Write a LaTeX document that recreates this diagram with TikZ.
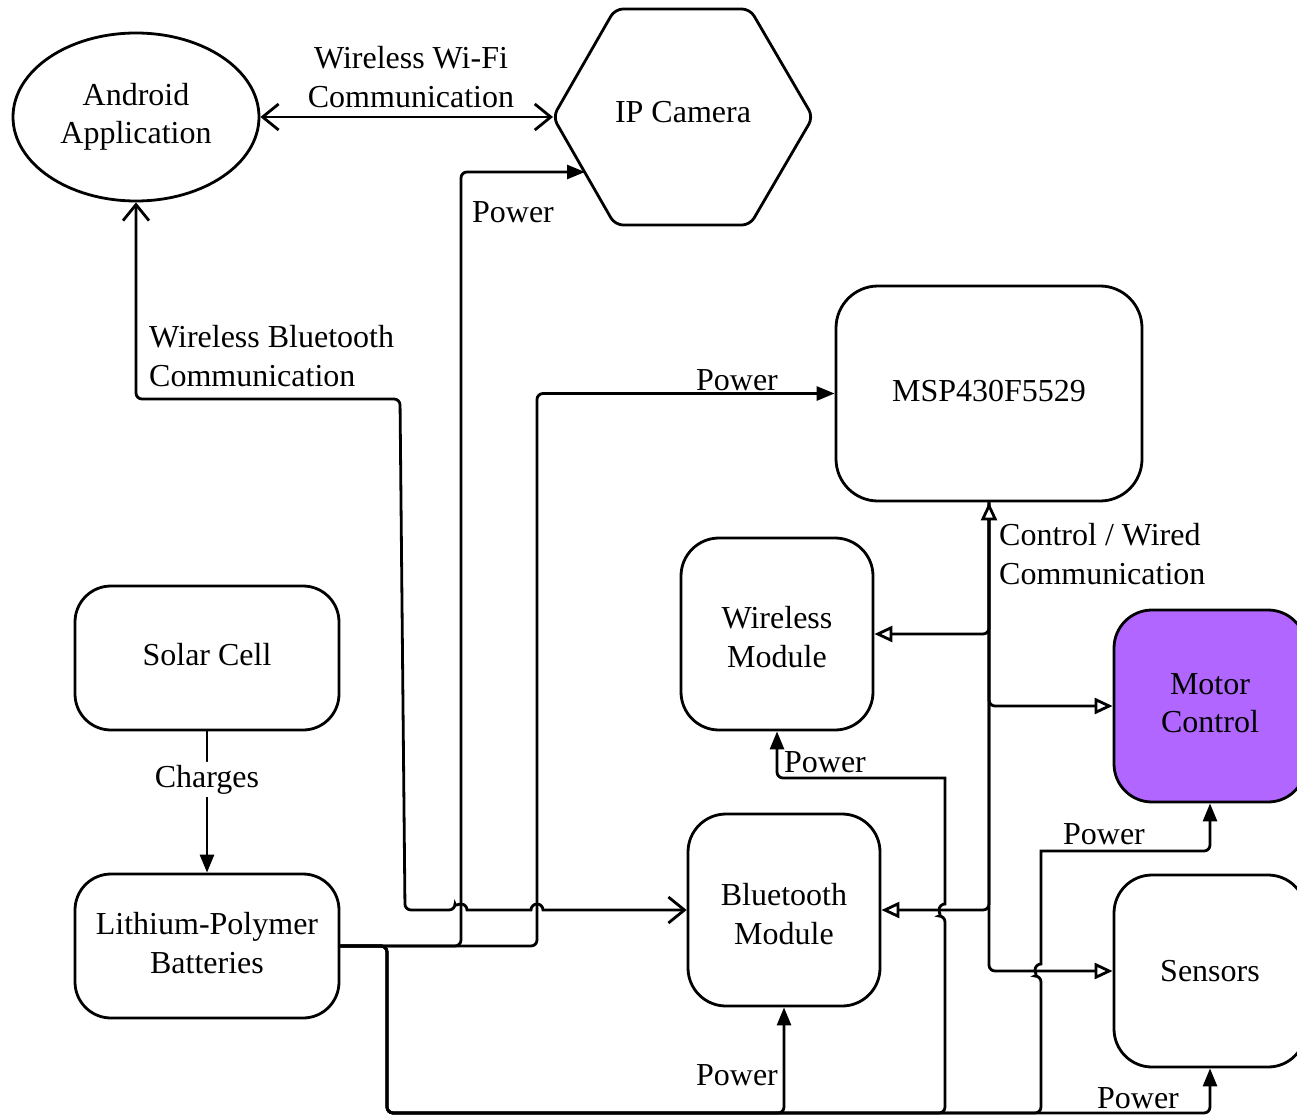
\documentclass[tikz,border=0pt]{standalone}
\usepackage{fontspec}
\setmainfont{Liberation Serif}
\usetikzlibrary{arrows.meta,shapes.geometric}
\definecolor{motor}{HTML}{B066FF}
\newcommand{\up}[2]{\raisebox{#1pt}{#2}}
\newcommand{\tall}[1]{\rule{0pt}{#1pt}}
\begin{document}
\begin{tikzpicture}[x=1pt,y=-1pt,
  every node/.style={font=\fontsize{32}{38.5}\selectfont},
  box/.style={draw, line width=2.8pt, rounded corners=38pt, minimum width=192pt,
    minimum height=192pt, align=center, inner sep=0pt},
  wire/.style={line width=2.8pt, rounded corners=6pt},
  pwr/.style={wire, -{Triangle[length=18pt,width=14pt]}},
  ctl/.style={wire, -{Triangle[open,length=18pt,width=16pt,fill=white]}},
  ctlboth/.style={wire, {Triangle[open,length=18pt,width=16pt,fill=white]}-{Triangle[open,length=18pt,width=16pt,fill=white]}},
  comm/.style={wire, {Straight Barb[length=16pt,width=26pt]}-{Straight Barb[length=16pt,width=26pt]}},
  lbl/.style={inner sep=0pt}
]
\useasboundingbox (0,0) rectangle (1297,1115);
\clip (0,0) rectangle (1297,1115);

% ---- blocks ----
\node[draw, ellipse, line width=2.8pt, minimum width=246pt, minimum height=168pt,
  align=center, inner sep=0pt] (android) at (136,117) {\up{2}{Android}\\\up{2}{Application}};

\draw[line width=2.8pt, rounded corners=8pt]
  (615,9) -- (750,9) -- (813,117) -- (750,225) -- (615,225) -- (553,117) -- cycle;
\node (cam) at (683,112) {IP Camera};
\coordinate (camL) at (553,117);
\coordinate (camP) at (585,172);

\node[box, minimum width=306pt, minimum height=215pt, rounded corners=42pt] (msp) at (989,393.5) {\up{6}{MSP430F5529}};
\node[box] (wm) at (777,634) {\tall{28}Wireless\\Module};
\node[box, fill=motor] (mc) at (1210,706) {\up{6}{Motor}\\\up{6}{Control}};
\node[box] (bt) at (784,910) {\tall{30}Bluetooth\\Module};
\node[box] (sen) at (1210,971) {\up{-2}{Sensors}};
\node[box, minimum width=264pt, minimum height=144pt, rounded corners=36pt] (solar) at (207,658) {\up{8}{Solar Cell}};
\node[box, minimum width=264pt, minimum height=144pt, rounded corners=36pt] (bat) at (207,946) {\up{6}{Lithium-Polymer}\\\up{6}{Batteries}};

% ---- wireless links ----
\draw[comm] (android.east) -- (camL);
\node[lbl, align=center] (wifi) at (411,77) {Wireless Wi-Fi\\Communication};

\draw[comm] (android.south) -- (136,399) -- (400,399) -- (405,910) -- (455,910)
  [sharp corners] arc[start angle=180,end angle=0,radius=6pt] -- (531,910)
  arc[start angle=180,end angle=0,radius=6pt] -- (bt.west);
\node[lbl, align=left, anchor=west] (btlbl) at (149,356) {Wireless Bluetooth\\Communication};

% ---- charging ----
\draw[pwr] (solar.south) -- node[pos=0.34, fill=white, inner sep=3pt] (chg) {Charges} (bat.north);

% ---- power distribution ----
\draw[pwr] (bat.east) -- (461,946) |- (camP);
\draw[pwr] (bat.east) -- (537,946) |- (msp.west);
\draw[pwr] (bat.east) -- (387,946) -- (387,1113) -| (bt.south);
\draw[pwr] (bat.east) -- (387,946) -- (387,1113) -- (945,1113) -- (945,916)
  [sharp corners] arc[start angle=270,end angle=90,radius=6pt] -- (945,778)
  [rounded corners=6pt] -| (wm.south);
\draw[pwr] (bat.east) -- (387,946) -- (387,1113) -- (1041,1113) -- (1041,976)
  [sharp corners] arc[start angle=270,end angle=90,radius=6pt] -- (1041,851)
  [rounded corners=6pt] -| (mc.south);
\draw[pwr] (bat.east) -- (387,946) -- (387,1113) -| (sen.south);

\node[lbl] (p1) at (513,212) {Power};
\node[lbl] (p2) at (737,380) {Power};
\node[lbl] (p3) at (737,1075) {Power};
\node[lbl] (p4) at (825,762) {Power};
\node[lbl] (p5) at (1104,834) {Power};
\node[lbl] (p6) at (1138,1098) {Power};

% ---- control / wired communication ----
\draw[ctl] (msp.south) |- (wm.east);
\draw[ctl] (msp.south) |- (mc.west);
\draw[ctl] (msp.south) |- (bt.east);
\draw[ctlboth] (msp.south) |- (sen.west);
\node[lbl, align=left, anchor=west] (ctllbl) at (999,554) {Control / Wired\\Communication};
\end{tikzpicture}
\end{document}
